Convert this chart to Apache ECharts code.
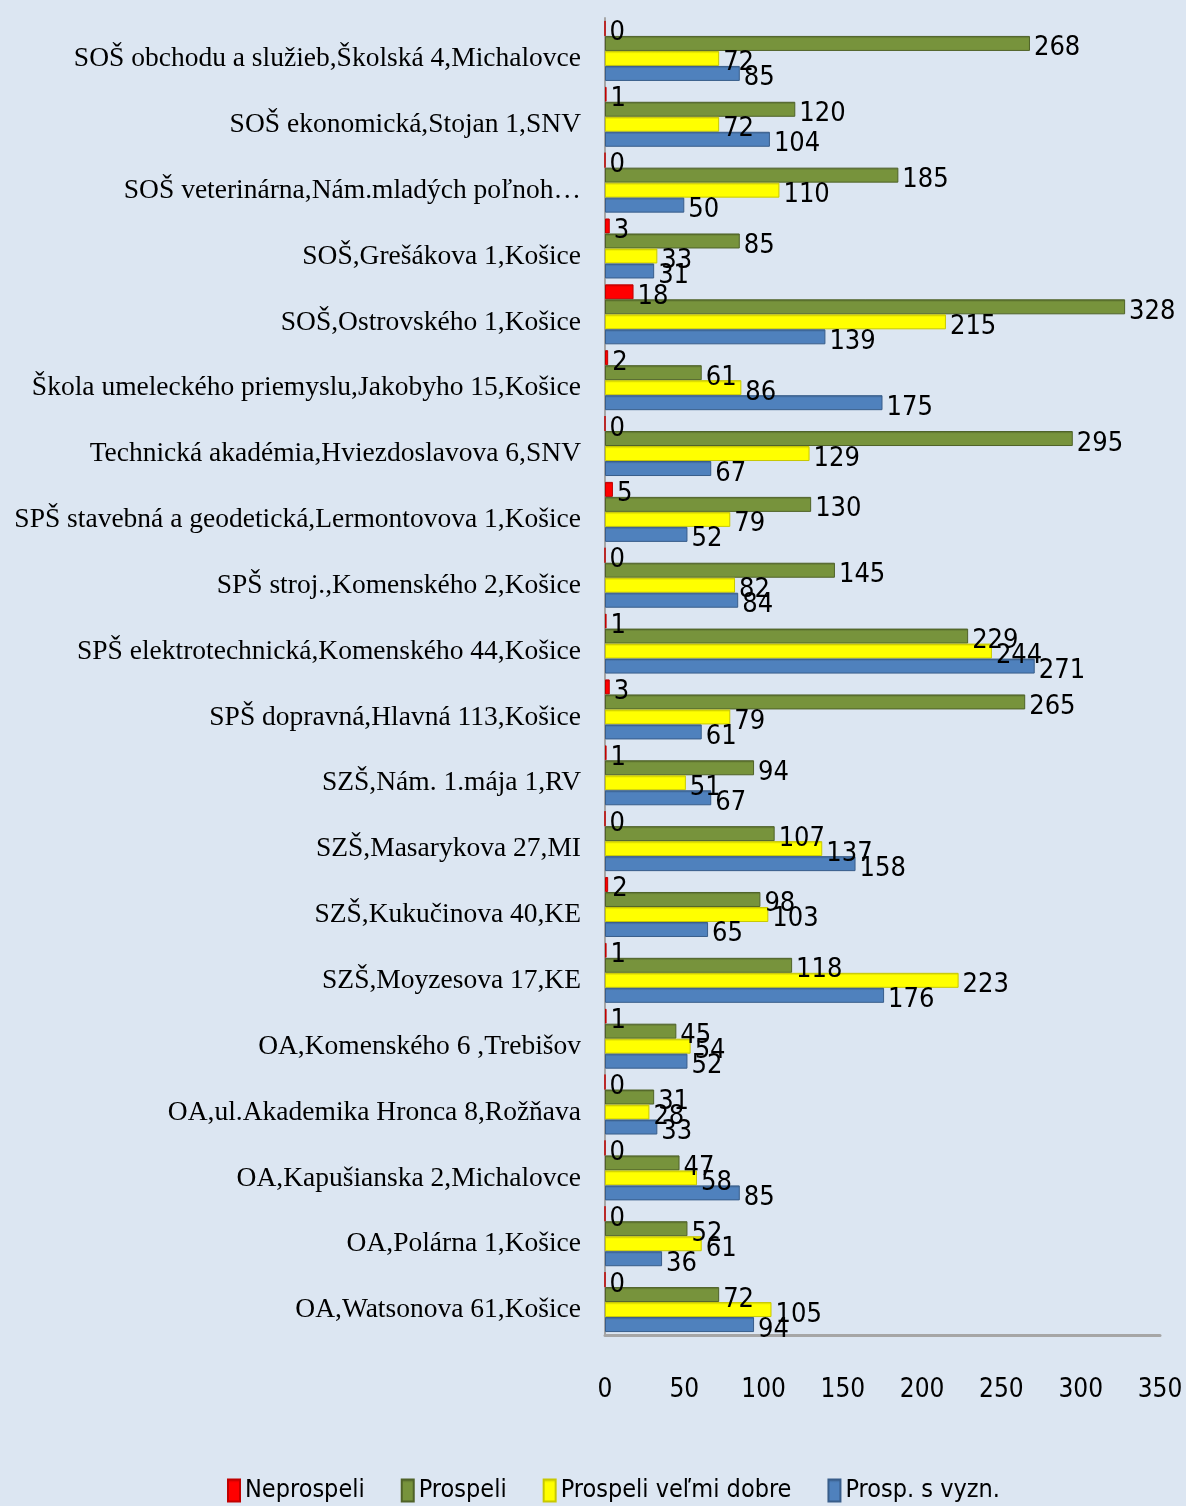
<!DOCTYPE html>
<html>
<head>
<meta charset="utf-8">
<script src="https://cdn.jsdelivr.net/npm/echarts@6/dist/echarts.min.js"></script>
<style>
  html, body { margin: 0; padding: 0; background: #dce6f2; }
  #chart { width: 1186px; height: 1506px; }
</style>
</head>
<body>
<div id="chart"></div>
<script>
// schools, top to bottom as in the picture
const schools = [
  'SOŠ obchodu a služieb,Školská 4,Michalovce',
  'SOŠ ekonomická,Stojan 1,SNV',
  'SOŠ veterinárna,Nám.mladých poľnoh…',
  'SOŠ,Grešákova 1,Košice',
  'SOŠ,Ostrovského 1,Košice',
  'Škola umeleckého priemyslu,Jakobyho 15,Košice',
  'Technická akadémia,Hviezdoslavova 6,SNV',
  'SPŠ stavebná a geodetická,Lermontovova 1,Košice',
  'SPŠ stroj.,Komenského 2,Košice',
  'SPŠ elektrotechnická,Komenského 44,Košice',
  'SPŠ dopravná,Hlavná 113,Košice',
  'SZŠ,Nám. 1.mája 1,RV',
  'SZŠ,Masarykova 27,MI',
  'SZŠ,Kukučinova 40,KE',
  'SZŠ,Moyzesova 17,KE',
  'OA,Komenského 6 ,Trebišov',
  'OA,ul.Akademika Hronca 8,Rožňava',
  'OA,Kapušianska 2,Michalovce',
  'OA,Polárna 1,Košice',
  'OA,Watsonova 61,Košice'
]
const neprospeli = [0, 1, 0, 3, 18, 2, 0, 5, 0, 1, 3, 1, 0, 2, 1, 1, 0, 0, 0, 0]
const prospeli = [268, 120, 185, 85, 328, 61, 295, 130, 145, 229, 265, 94, 107, 98, 118, 45, 31, 47, 52, 72]
const velmiDobre = [72, 72, 110, 33, 215, 86, 129, 79, 82, 244, 79, 51, 137, 103, 223, 54, 28, 58, 61, 105]
const sVyzn = [85, 104, 50, 31, 139, 175, 67, 52, 84, 271, 61, 67, 158, 65, 176, 52, 33, 85, 36, 94]
const xTicks = [0, 50, 100, 150, 200, 250, 300, 350]

const sansNarrow = "'Liberation Sans Narrow', 'DejaVu Sans Condensed', 'Roboto', sans-serif"

const chart = echarts.init(document.getElementById('chart'))

function barSeries(name, data, color, edge) {
  return {
    name,
    type: 'bar',
    data,
    barWidth: 15,
    barGap: '0%',
    itemStyle: {
      color: new echarts.graphic.LinearGradient(0, 0, 0, 1, [
        { offset: 0, color: edge },
        { offset: 0.18, color: color },
        { offset: 1, color: color }
      ]),
      borderColor: edge,
      borderWidth: 1
    },
    label: {
      show: true,
      position: 'right',
      distance: 4,
      offset: [0, 5],
      color: '#000',
      fontSize: 27,
      fontFamily: sansNarrow
    }
  }
}

chart.setOption({
  backgroundColor: '#dce6f2',
  animation: false,
  grid: {
    left: 605,
    right: 26,
    top: 18,
    bottom: 171
  },
  legend: {
    bottom: -2,
    left: 222,
    itemWidth: 12,
    itemHeight: 22,
    itemGap: 36,
    icon: 'rect',
    textStyle: {
      fontSize: 25,
      fontFamily: sansNarrow,
      color: '#000'
    },
    data: ['Neprospeli', 'Prospeli', 'Prospeli veľmi dobre', 'Prosp. s vyzn.']
  },
  xAxis: {
    type: 'value',
    min: xTicks[0],
    max: xTicks[xTicks.length - 1],
    interval: 50,
    axisLine: { show: true, lineStyle: { color: '#a6a6a6', width: 3 } },
    axisTick: { show: false },
    splitLine: { show: false },
    axisLabel: {
      margin: 42,
      color: '#000',
      fontSize: 26,
      fontFamily: sansNarrow
    }
  },
  yAxis: {
    type: 'category',
    inverse: true,
    data: schools,
    axisLine: { show: true, lineStyle: { color: '#a6a6a6', width: 2 } },
    axisTick: { show: false },
    axisLabel: {
      margin: 24,
      formatter: (v) => '{a|' + v + '}',
      rich: {
        a: {
          padding: [16, 0, 0, 0],
          color: '#000',
          fontSize: 27.5,
          fontFamily: "'Liberation Serif', 'Times New Roman', serif"
        }
      }
    }
  },
  series: [
    barSeries('Neprospeli', neprospeli, '#ff0000', '#c00000'),
    barSeries('Prospeli', prospeli, '#77933c', '#4f6228'),
    barSeries('Prospeli veľmi dobre', velmiDobre, '#ffff00', '#c8c800'),
    barSeries('Prosp. s vyzn.', sVyzn, '#4f81bd', '#385d8a')
  ]
})
</script>
</body>
</html>
